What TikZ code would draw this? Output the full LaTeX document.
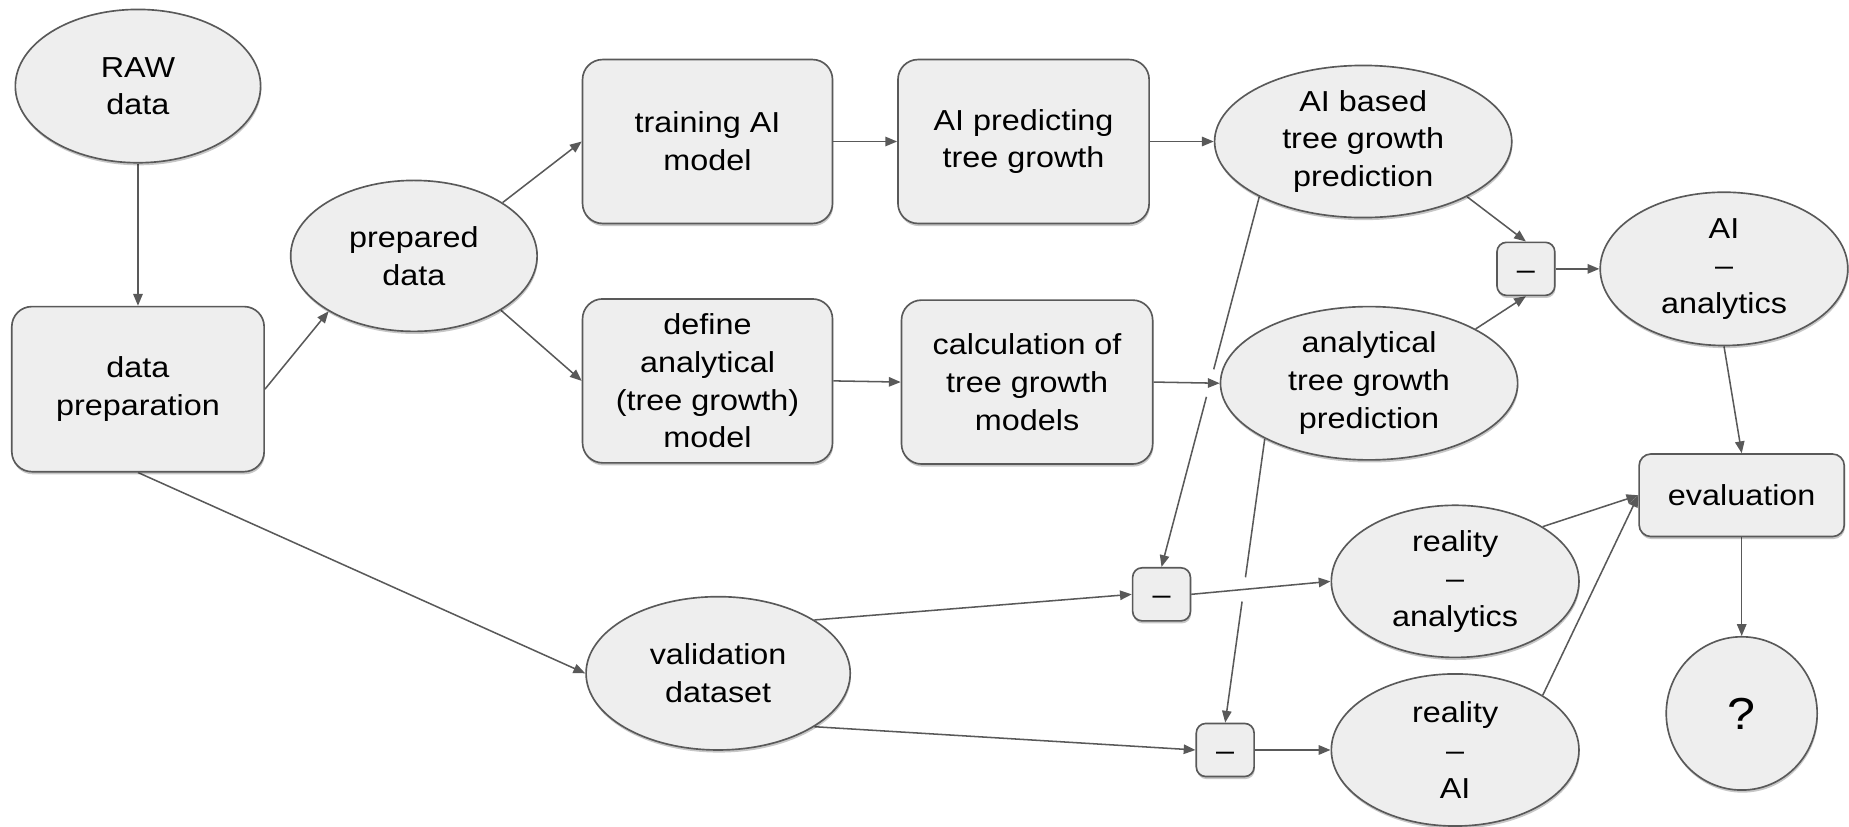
\documentclass[tikz,border=0pt]{standalone}
\usepackage{fontspec}
\setmainfont{Liberation Sans}[FakeStretch=1.12]
\usetikzlibrary{shapes.geometric,arrows.meta,shadows,intersections}
\pgfdeclarelayer{bg}
\pgfsetlayers{bg,main}
\definecolor{nodefill}{HTML}{EEEEEE}
\definecolor{edgec}{HTML}{595959}
\newcommand{\mdash}{\raisebox{-9pt}[0pt][0pt]{–}}
\tikzset{
  base/.style={draw=edgec, line width=1.4pt, fill=nodefill, inner sep=0pt, align=center,
    font=\fontsize{24.5}{32}\selectfont, text=black,
    drop shadow={shadow xshift=0.6pt, shadow yshift=-2.2pt, fill=black, opacity=0.22}},
  ell/.style={base, ellipse},
  box/.style={base, rectangle, rounded corners=17pt},
  minusbox/.style={base, rectangle, rounded corners=8pt, minimum width=49pt, minimum height=45pt},
  arr/.style={draw=edgec, line width=1.3pt, -{Triangle[length=10pt,width=8pt]}},
  gapmask/.style={fill=white},
}
\begin{document}
\begin{tikzpicture}[x=1pt,y=-1pt]
\useasboundingbox (0,0) rectangle (1568,701);

% nodes
\node[ell, minimum width=208pt, minimum height=130pt] (raw) at (117,73) {RAW\\data};
\node[box, minimum width=214pt, minimum height=140pt] (prep) at (117,330) {data\\preparation};
\node[ell, minimum width=209pt, minimum height=128pt] (pdata) at (351,217) {prepared\\data};
\node[box, minimum width=212pt, minimum height=139pt] (train) at (600,120) {training AI\\model};
\node[box, minimum width=212pt, minimum height=139pt] (define) at (600,323) {define\\analytical\\(tree growth)\\model};
\node[box, minimum width=213pt, minimum height=139pt] (aipred) at (868,120) {AI predicting\\tree growth};
\node[box, minimum width=213pt, minimum height=139pt] (calc) at (871,324) {calculation of\\tree growth\\models};
\node[ell, minimum width=252pt, minimum height=129pt] (aibased) at (1156,120) {AI based\\tree growth\\prediction};
\node[ell, minimum width=252pt, minimum height=130pt] (anapred) at (1161,325) {analytical\\tree growth\\prediction};
\node[minusbox] (m1) at (1294,228) {\mdash};
\node[ell, minimum width=210pt, minimum height=130pt] (aiana) at (1462,228) {AI\\–\\analytics};
\node[box, minimum width=174pt, minimum height=70pt, rounded corners=10pt] (eval) at (1477,420) {evaluation};
\node[ell, minimum width=210pt, minimum height=129pt] (ra) at (1234,493) {reality\\–\\analytics};
\node[ell, minimum width=210pt, minimum height=129pt] (rai) at (1234,636) {reality\\–\\AI};
\node[ell, minimum width=128pt, minimum height=130pt, font=\fontsize{38}{46}\selectfont] (q) at (1477,605) {?};
\node[ell, minimum width=224pt, minimum height=130pt] (val) at (609,571) {validation\\dataset};
\node[minusbox] (m2) at (985,504) {\mdash};
\node[minusbox] (m3) at (1039,636) {\mdash};

% connectors
\begin{pgfonlayer}{bg}
\draw[arr, name path=d1] (aibased.208) -- (m2.north);
\draw[arr, name path=d2] (anapred.208) -- (m3.north);
\path[name path=h1] (calc.east) -- (anapred.west);
\path[name path=h2] (m2.east) -- (ra.west);
\fill[gapmask, name intersections={of=d1 and h1, name=ia}] (ia-1) circle (12pt);
\fill[gapmask, name intersections={of=d2 and h2, name=ib}] (ib-1) circle (10.5pt);

\draw[arr] (raw.south) -- (prep.north);
\draw[arr] (prep.east) -- (pdata.213);
\draw[arr] (pdata.31) -- (train.west);
\draw[arr] (pdata.-32) -- (define.west);
\draw[arr] (train.east) -- (aipred.west);
\draw[arr] (aipred.east) -- (aibased.west);
\draw[arr] (define.east) -- (calc.west);
\draw[arr] (calc.east) -- (anapred.west);
\draw[arr] (prep.south) -- (val.west);
\draw[arr] (aibased.332) -- (m1.north);
\draw[arr] (anapred.27) -- (m1.south);
\draw[arr] (m1.east) -- (aiana.west);
\draw[arr] (aiana.south) -- (eval.north);
\draw[arr] (eval.south) -- (q.north);
\draw[arr] (ra.32) -- (eval.west);
\draw[arr] (rai.32) -- (eval.west);
\draw[arr] (val.29) -- (m2.west);
\draw[arr] (val.-29) -- (m3.west);
\draw[arr] (m2.east) -- (ra.west);
\draw[arr] (m3.east) -- (rai.west);
\end{pgfonlayer}
\end{tikzpicture}
\end{document}
